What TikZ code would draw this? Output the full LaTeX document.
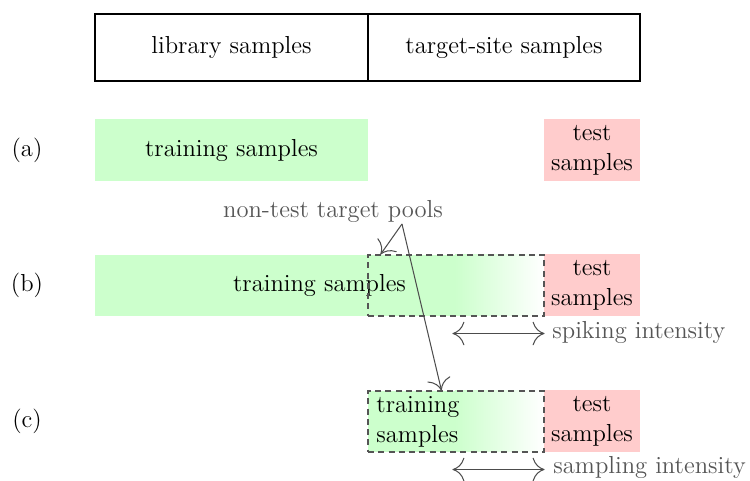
\documentclass[tikz,border=0pt]{standalone}
\usetikzlibrary{arrows.meta}
\definecolor{trgreen}{HTML}{CCFFCC}
\definecolor{tsred}{HTML}{FFCCCC}
\definecolor{annot}{HTML}{555555}
\def\u{0.4878pt}
\begin{document}
\begin{tikzpicture}[x=\u, y=-\u,
  every node/.style={font=\fontsize{12}{14.5}\selectfont},
  topbox/.style={draw=black, line width=0.5pt, minimum height=67*\u, inner sep=0},
  trainbox/.style={fill=trgreen, inner sep=0, minimum height=62*\u},
  testbox/.style={fill=tsred, inner sep=0, minimum width=96*\u, minimum height=62*\u, align=center},
  pool/.style={draw=annot, dash pattern=on 3pt off 2pt, line width=0.5pt, minimum width=176*\u, minimum height=61*\u, inner sep=0},
  annottext/.style={text=annot, inner sep=0},
  annotarrow/.style={draw=black!70, line width=0.5pt, -{To[length=5.8pt,width=11.5pt]}},
  dblarrow/.style={draw=black!70, line width=0.5pt, {To[length=5.8pt,width=11.5pt]}-{To[length=5.8pt,width=11.5pt]}},
  rowlabel/.style={inner sep=0}
]
\useasboundingbox (0,0) rectangle (750,481);

% top header
\node[topbox, minimum width=273*\u] (lib) at (231.5,47.5) {library samples};
\node[topbox, minimum width=272*\u] (tgt) at (504,47.5) {target-site samples};

% (a)
\node[rowlabel] (la) at (27,150) {(a)};
\node[trainbox, minimum width=273*\u] (atrain) at (231.5,150) {training samples};
\node[testbox] (atest) at (592,150) {test\\samples};

% (b)
\node[rowlabel] (lb) at (27,285.5) {(b)};
\fill[trgreen] (95,255) rectangle (456,316);
\shade[left color=trgreen, right color=white] (455,255) rectangle (544,316);
\node[inner sep=0] (btrain) at (319.5,285.5) {training samples};
\node[testbox] (btest) at (592,285.5) {test\\samples};
\node[pool] (bpool) at (456,285.5) {};

% (c)
\node[rowlabel] (lc) at (27,421.5) {(c)};
\fill[trgreen] (368,391) rectangle (456,452);
\shade[left color=trgreen, right color=white] (455,391) rectangle (544,452);
\node[inner sep=0, align=left, anchor=west] (ctrain) at (376,421.5) {training\\samples};
\node[testbox] (ctest) at (592,421.5) {test\\samples};
\node[pool] (cpool) at (456,421.5) {};

% non-test target pools annotation
\node[annottext] (pools) at (333,211) {non-test target pools};
\coordinate (apex) at (402,224);
\draw[annotarrow] (apex) -- ([xshift=13*\u]bpool.north west);
\draw[annotarrow] (apex) -- ([xshift=74*\u]cpool.north west);

% intensities
\node[annottext, anchor=west] (spike) at (552,332) {spiking intensity};
\coordinate (bs) at ([xshift=85*\u, yshift=-17*\u]bpool.south west);
\coordinate (be) at ([yshift=-17*\u]bpool.south east);
\draw[dblarrow] (bs) -- (be);

\node[annottext, anchor=west] (samp) at (553,467) {sampling intensity};
\coordinate (cs) at ([xshift=85*\u, yshift=-17*\u]cpool.south west);
\coordinate (ce) at ([yshift=-17*\u]cpool.south east);
\draw[dblarrow] (cs) -- (ce);
\end{tikzpicture}
\end{document}
